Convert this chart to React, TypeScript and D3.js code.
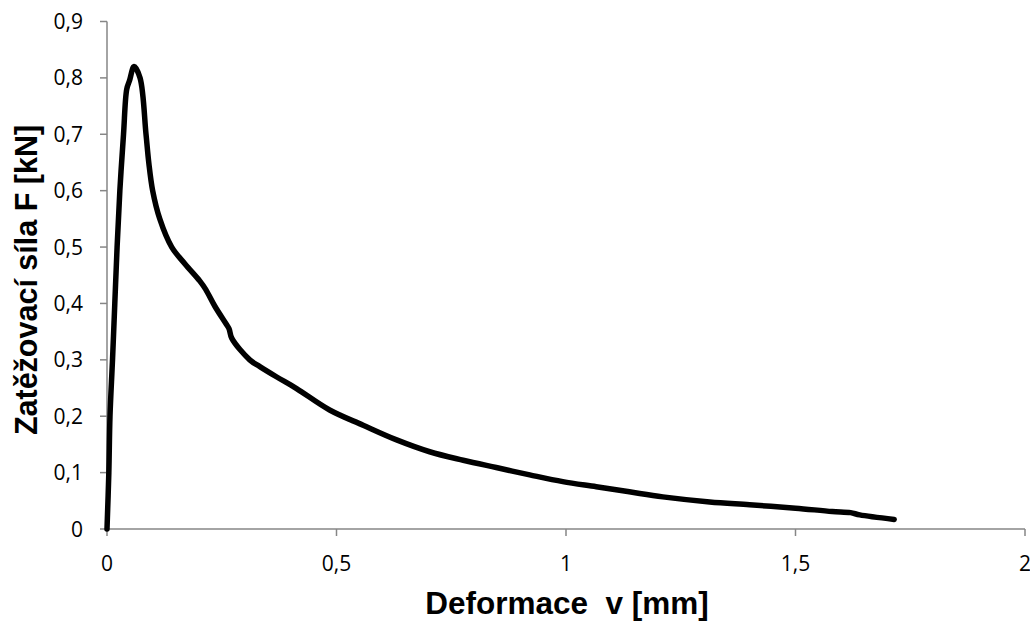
import React from 'react';
import * as d3 from 'd3';

// deformation v [mm]
const deformace = [
  0, 0.004, 0.0065, 0.012, 0.017, 0.022, 0.028, 0.036, 0.043, 0.049, 0.059,
  0.072, 0.085, 0.091, 0.0995, 0.115, 0.141, 0.17, 0.202, 0.215, 0.235, 0.26,
  0.266, 0.272, 0.311, 0.333, 0.369, 0.413, 0.485, 0.558, 0.631, 0.703, 0.776,
  0.848, 0.921, 0.993, 1.066, 1.138, 1.211, 1.313, 1.4, 1.5, 1.58, 1.62, 1.64,
  1.715,
];
// loading force F [kN]
const sila = [
  0, 0.1, 0.2, 0.3, 0.4, 0.5, 0.6, 0.7, 0.78, 0.795, 0.82, 0.8, 0.7, 0.65,
  0.6, 0.55, 0.5, 0.47, 0.44, 0.425, 0.395, 0.363, 0.355, 0.338, 0.3, 0.288,
  0.27, 0.249, 0.211, 0.184, 0.158, 0.137, 0.122, 0.109, 0.096, 0.084, 0.075,
  0.066, 0.057, 0.048, 0.043, 0.037, 0.031, 0.029, 0.025, 0.017,
];
const xTicks = [0, 0.5, 1, 1.5, 2];
const yTicks = [0, 0.1, 0.2, 0.3, 0.4, 0.5, 0.6, 0.7, 0.8, 0.9];

const W = 1030;
const H = 623;
const left = 107;
const right = 1025;
const top = 21.5;
const bottom = 529;

const fmt = (v: number) => String(v).replace('.', ',');

export default function App() {
  const x = d3.scaleLinear().domain([0, 2]).range([left, right]);
  const y = d3.scaleLinear().domain([0, 0.9]).range([bottom, top]);
  const pts = deformace.map((d, i) => [d, sila[i]] as [number, number]);
  const path = d3
    .line<[number, number]>()
    .x((d) => x(d[0]))
    .y((d) => y(d[1]))
    .curve(d3.curveCatmullRom.alpha(0.5))(pts);

  const axisColor = '#868686';
  const tickFont = '"Open Sans", Lato, sans-serif';
  const titleFont = '"Liberation Sans", Arial, sans-serif';
  return (
    <svg
      width={W}
      height={H}
      style={{ position: 'absolute', left: 0, top: 0, background: '#fff' }}
    >
      <line x1={left} x2={left} y1={top} y2={bottom} stroke={axisColor} strokeWidth={1.5} />
      <line x1={left} x2={right} y1={bottom} y2={bottom} stroke={axisColor} strokeWidth={1.5} />
      {yTicks.map((t) => (
        <g key={'y' + t}>
          <line x1={left - 7} x2={left} y1={y(t)} y2={y(t)} stroke={axisColor} strokeWidth={1.5} />
          <text
            x={83}
            y={y(t)}
            dy="0.36em"
            textAnchor="end"
            fontFamily={tickFont}
            fontSize={21}
            fill="#000"
          >
            {fmt(t)}
          </text>
        </g>
      ))}
      {xTicks.map((t) => (
        <g key={'x' + t}>
          <line x1={x(t)} x2={x(t)} y1={bottom} y2={bottom + 7} stroke={axisColor} strokeWidth={1.5} />
          <text
            x={x(t)}
            y={571}
            textAnchor="middle"
            fontFamily={tickFont}
            fontSize={21}
            fill="#000"
          >
            {fmt(t)}
          </text>
        </g>
      ))}
      <path
        d={path || ''}
        fill="none"
        stroke="#000"
        strokeWidth={5.5}
        strokeLinejoin="round"
        strokeLinecap="round"
      />
      <text
        x={567}
        y={614}
        textAnchor="middle"
        fontFamily={titleFont}
        fontWeight="bold"
        fontSize={31.5}
        fill="#000"
        style={{ whiteSpace: 'pre' }}
      >
        Deformace  v [mm]
      </text>
      <text
        transform="translate(37, 280) rotate(-90)"
        textAnchor="middle"
        fontFamily={titleFont}
        fontWeight="bold"
        fontSize={30.5}
        fill="#000"
        style={{ whiteSpace: 'pre' }}
      >
        Zatěžovací síla F [kN]
      </text>
    </svg>
  );
}
